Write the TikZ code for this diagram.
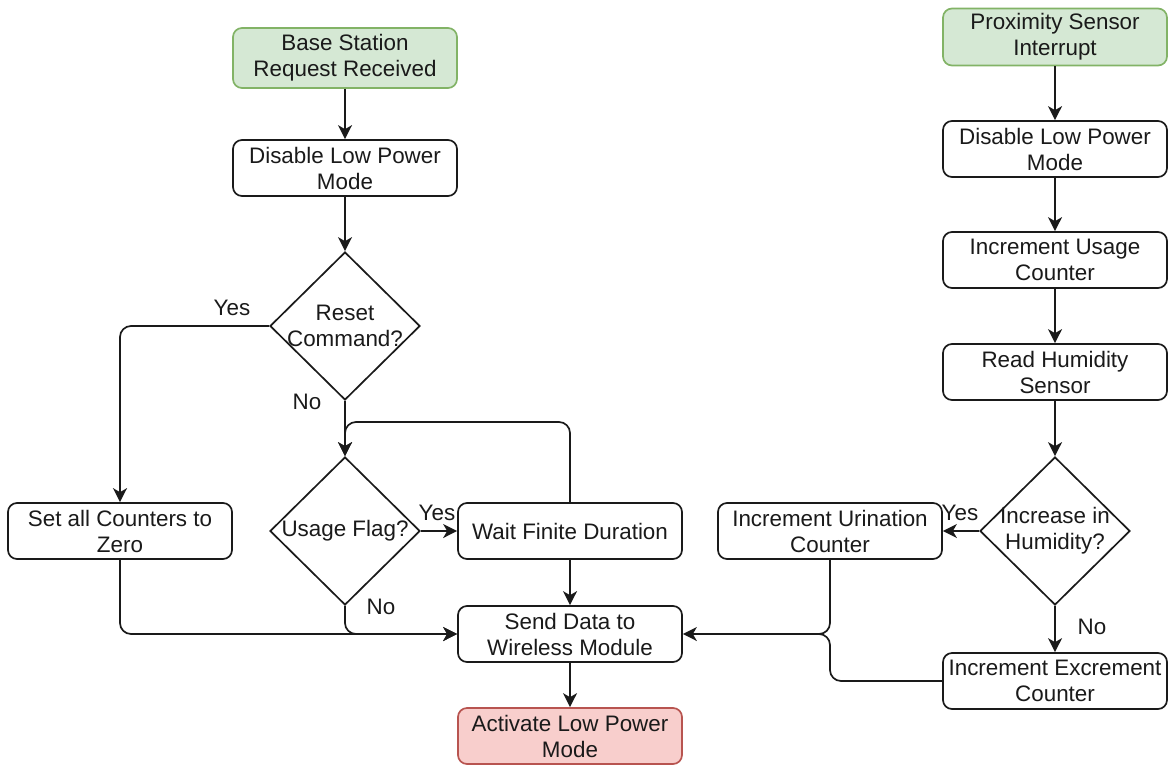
\documentclass[tikz,border=0pt]{standalone}
\usepackage{fontspec}
\setmainfont{Liberation Sans}
\usetikzlibrary{shapes.geometric,arrows.meta}
\definecolor{startfill}{HTML}{D5E8D4}
\definecolor{startline}{HTML}{82B366}
\definecolor{endfill}{HTML}{F8CECC}
\definecolor{endline}{HTML}{B85450}
\definecolor{ink}{HTML}{1A1A1A}
\begin{document}
\begin{tikzpicture}[x=1pt,y=-1pt,
  every node/.style={font=\fontsize{22.4}{26}\selectfont, text=ink},
  box/.style={draw=ink, rounded corners=9pt, line width=1.7pt, fill=white,
    minimum width=224pt, minimum height=56pt, align=center, inner sep=0pt},
  startbox/.style={box, fill=startfill, draw=startline},
  endbox/.style={box, fill=endfill, draw=endline},
  decision/.style={diamond, draw=ink, line width=1.7pt, fill=white,
    minimum width=150pt, minimum height=148pt, inner sep=0pt},
  dtext/.style={align=center, inner sep=0pt},
  flow/.style={draw=ink, line width=1.7pt, rounded corners=11pt,
    -{Stealth[length=14pt,width=14pt,inset=4pt]}},
  plain/.style={draw=ink, line width=1.7pt, rounded corners=11pt},
  lbl/.style={inner sep=0pt}]
\useasboundingbox (0,0) rectangle (1169,766);

% left branch: base station request
\node[startbox, minimum height=60pt] (bs) at (345,58) {Base Station\\Request Received};
\node[box] (dl1) at (345,168) {Disable Low Power\\Mode};
\node[decision] (reset) at (345,326) {};
\node[dtext] at (reset) {Reset\\Command?};
\node[decision] (usage) at (345,531) {};
\node[dtext] at (usage) {Usage Flag?};
\node[box] (wait) at (570,531) {Wait Finite Duration};
\node[box] (zero) at (120,531) {Set all Counters to\\Zero};
\node[box] (send) at (570,634) {Send Data to\\Wireless Module};
\node[endbox] (act) at (570,736) {Activate Low Power\\Mode};

% right branch: proximity interrupt
\node[startbox, minimum height=57pt] (prox) at (1055,37) {Proximity Sensor\\Interrupt};
\node[box] (dl2) at (1055,149) {Disable Low Power\\Mode};
\node[box] (usec) at (1055,260) {Increment Usage\\Counter};
\node[box] (hum) at (1055,372) {Read Humidity\\Sensor};
\node[decision] (inc) at (1055,531) {};
\node[dtext] at (inc) {Increase in\\Humidity?};
\node[box] (uri) at (830,531) {Increment Urination\\Counter};
\node[box] (exc) at (1055,681) {Increment Excrement\\Counter};

\coordinate (loop) at (345,422);

% connectors, left
\path[flow] (bs) -- (dl1);
\path[flow] (dl1) -- (reset);
\path[flow] (reset.west) -| (zero.north);
\path[flow] (reset.south) -- (usage.north);
\path[flow] (wait.north) |- (loop) -- (usage.north);
\path[flow] (usage.east) -- (wait.west);
\path[flow] (usage.south) |- (send.west);
\path[flow] (zero.south) |- (send.west);
\path[flow] (wait) -- (send);
\path[flow] (send) -- (act);

% connectors, right
\path[flow] (prox) -- (dl2);
\path[flow] (dl2) -- (usec);
\path[flow] (usec) -- (hum);
\path[flow] (hum) -- (inc);
\path[flow] (inc.west) -- (uri.east);
\path[flow] (inc.south) -- (exc.north);
\path[flow] (uri.south) |- (send.east);
\path[plain] (exc.west) -| (uri.south |- send.east) -- ++(-20,0);

% branch labels
\node[lbl] at (232,308) {Yes};
\node[lbl] at (307,402) {No};
\node[lbl] at (437,513) {Yes};
\node[lbl] at (381,607) {No};
\node[lbl] at (960,513) {Yes};
\node[lbl] at (1092,627) {No};
\end{tikzpicture}
\end{document}
